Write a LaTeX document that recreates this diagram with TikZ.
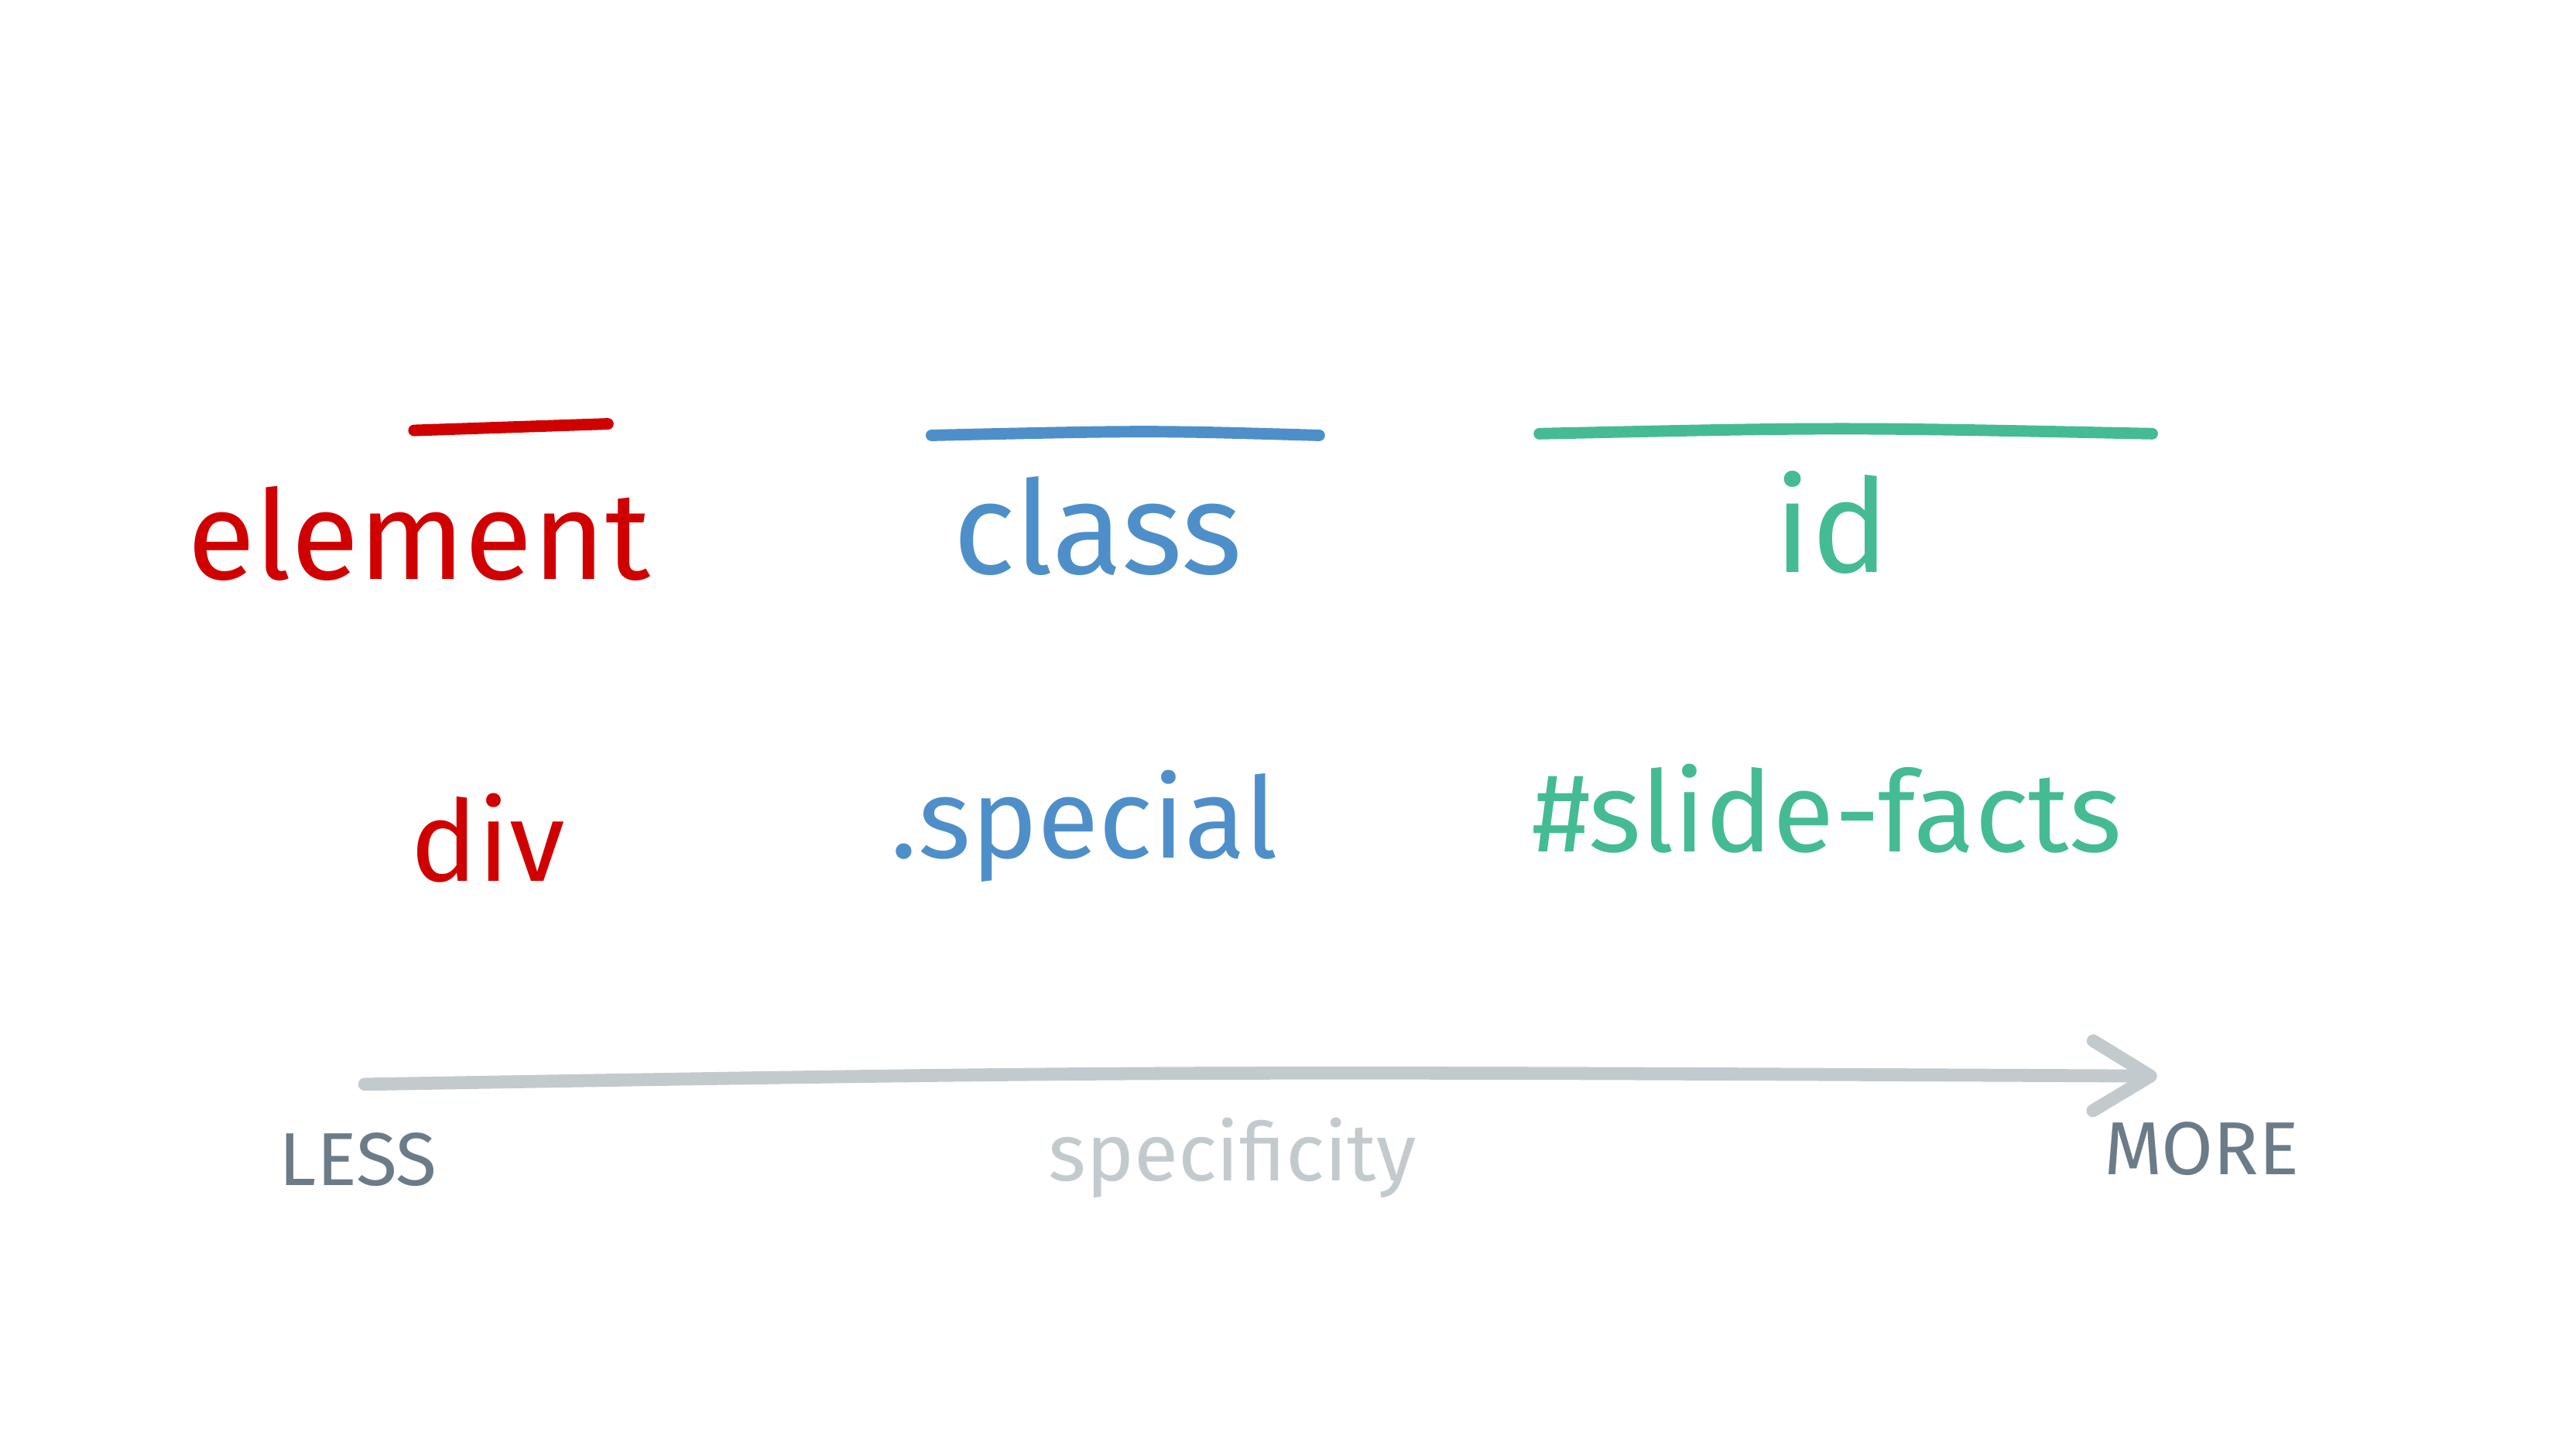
\documentclass[tikz,border=0pt]{standalone}
\usepackage{fontspec}
\setmainfont{Fira Sans}
\usetikzlibrary{arrows.meta}
\definecolor{elemred}{HTML}{D00000}
\definecolor{classblue}{HTML}{4F8FC9}
\definecolor{idgreen}{HTML}{45BB94}
\definecolor{axisgray}{HTML}{C3CACE}
\definecolor{axisdark}{HTML}{6B7B88}

\begin{document}
\begin{tikzpicture}[x=0.2mm,y=-0.2mm,
    bar/.style={line width=4pt,line cap=round},
    big/.style={inner sep=0pt,font=\fontsize{45}{50}\selectfont},
    small/.style={inner sep=0pt,font=\fontsize{39}{44}\selectfont},
    axislabel/.style={inner sep=0pt,font=\fontsize{26}{30}\selectfont,text=axisdark}]
    \useasboundingbox (0,0) rectangle (1568,882);
    % top row
    \node[big,text=elemred,font=\fontsize{43}{48}\selectfont] (element) at (255,325) {element};
    \node[big,text=classblue] (class) at (668,320) {class};
    \node[big,text=idgreen] (id) at (1115,318) {id};
    \draw[bar,elemred] (252,262) -- (370,258);
    \draw[bar,classblue] (567,265) .. controls (700,262) .. (803,265);
    \draw[bar,idgreen] (937,264) .. controls (1120,260) .. (1310,264);
    % examples
    \node[small,text=elemred] (div) at (297,510) {div};
    \node[small,text=classblue] (special) at (660,503) {.special};
    \node[small,text=idgreen] (slidefacts) at (1112,492) {\#slide-facts};
    % axis
    \coordinate (lo) at (222,660);
    \coordinate (hi) at (1313,655);
    \draw[axisgray,line width=4.5pt,line cap=round,
      -{Straight Barb[length=7mm,width=8.5mm,round]}] (lo) .. controls (700,652) .. (hi);
    \node[axislabel] (less) at (218,706) {LESS};
    \node[axislabel,text=axisgray,font=\fontsize{28}{32}\selectfont] (spec) at (750,705) {specificity};
    \node[axislabel] (more) at (1340,699) {MORE};
\end{tikzpicture}
\end{document}
